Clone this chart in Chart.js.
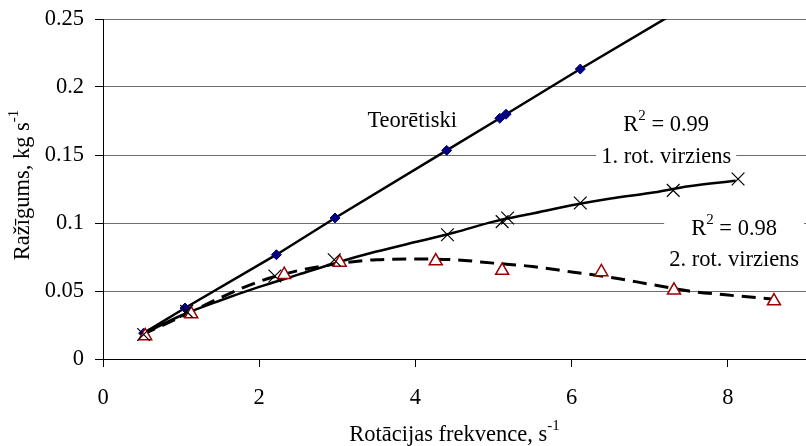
<!DOCTYPE html>
<html>
<head>
<meta charset="utf-8">
<script src="https://cdn.jsdelivr.net/npm/chart.js@4.4.1/dist/chart.umd.min.js"></script>
<style>
  html, body { margin: 0; padding: 0; background: #fff; }
  canvas { display: block; }
</style>
</head>
<body>
<canvas id="chart" width="806" height="446"></canvas>
<script>
// Teorētiskais ražīgums
const teorFreq = [0.52, 1.05, 2.22, 2.97, 4.40, 5.08, 5.16, 6.11, 8.13];
const teorValues = [0.019, 0.0375, 0.0767, 0.1037, 0.1534, 0.177, 0.180, 0.2132, 0.282];

// 1. rotācijas virziens (mērījumi)
const rot1Freq = [0.52, 1.07, 2.20, 2.96, 4.41, 5.11, 5.18, 6.11, 7.30, 8.13];
const rot1Values = [0.018, 0.035, 0.061, 0.073, 0.0914, 0.101, 0.1037, 0.1147, 0.124, 0.1324];

// 2. rotācijas virziens (mērījumi)
const rot2Freq = [0.54, 1.13, 2.32, 3.03, 4.26, 5.11, 6.38, 7.31, 8.59];
const rot2Values = [0.017, 0.033, 0.062, 0.071, 0.072, 0.065, 0.064, 0.0505, 0.0426];

// trendlīnijas
const trend1Freq = [0.5, 1, 1.5, 2, 2.5, 3, 3.5, 4, 4.5, 5, 5.5, 6, 6.5, 7, 7.5, 8.1];
const trend1Values = [0.018, 0.032, 0.043, 0.053, 0.062, 0.071, 0.079, 0.086, 0.093, 0.101, 0.107, 0.113, 0.118, 0.122, 0.127, 0.131];
const trend2Freq = [0.5, 1, 1.5, 2, 2.5, 3, 3.5, 4, 4.5, 5, 5.5, 6, 6.5, 7, 7.5, 8, 8.6];
const trend2Values = [0.018, 0.031, 0.045, 0.057, 0.065, 0.070, 0.073, 0.0735, 0.073, 0.0705, 0.068, 0.064, 0.060, 0.055, 0.050, 0.047, 0.044];

const xTicks = [0, 2, 4, 6, 8];
const yTicks = [0, 0.05, 0.1, 0.15, 0.2, 0.25];

const FONT = '"Liberation Serif", "Times New Roman", serif';
const SIZE = 22.5;

Chart.defaults.color = '#000';
Chart.defaults.font.family = FONT;
Chart.defaults.font.size = SIZE;

const pts = (xs, ys) => xs.map((x, i) => ({ x: x, y: ys[i] }));

// text with a superscript part: main + sup + tail, anchored at x (align) and baseline y
function drawSup(ctx, main, sup, tail, x, y, align) {
  const supSize = 15;
  ctx.font = SIZE + 'px ' + FONT;
  const wMain = ctx.measureText(main).width;
  const wTail = ctx.measureText(tail).width;
  ctx.font = supSize + 'px ' + FONT;
  const wSup = ctx.measureText(sup).width;
  const total = wMain + wSup + wTail;
  let cx = align === 'center' ? x - total / 2 : x;
  ctx.textAlign = 'left';
  ctx.textBaseline = 'alphabetic';
  ctx.fillStyle = '#000';
  ctx.font = SIZE + 'px ' + FONT;
  ctx.fillText(main, cx, y);
  ctx.font = supSize + 'px ' + FONT;
  ctx.fillText(sup, cx + wMain, y - 11);
  ctx.font = SIZE + 'px ' + FONT;
  ctx.fillText(tail, cx + wMain + wSup, y);
  return total;
}

// annotation anchors in data units (x, baseline y)
const notes = [
  { x: 7.21, y1: 0.1674, y2: 0.1443, r2: '0.99', name: '1. rot. virziens' },
  { x: 8.08, y1: 0.0914, y2: 0.0686, r2: '0.98', name: '2. rot. virziens' }
];

const textPlugin = {
  id: 'texts',
  beforeDatasetsDraw(chart) {
    const ctx = chart.ctx;
    const xs = chart.scales.x, ys = chart.scales.y;
    ctx.save();
    ctx.font = SIZE + 'px ' + FONT;
    ctx.fillStyle = '#000';
    ctx.textAlign = 'left';
    ctx.textBaseline = 'alphabetic';
    ctx.fillText('Teorētiski', xs.getPixelForValue(3.385), ys.getPixelForValue(0.1708));

    notes.forEach(n => {
      const cx = xs.getPixelForValue(n.x);
      const b1 = ys.getPixelForValue(n.y1);
      const b2 = ys.getPixelForValue(n.y2);
      ctx.font = SIZE + 'px ' + FONT;
      const w = ctx.measureText(n.name).width;
      ctx.fillStyle = '#fff';
      ctx.fillRect(cx - w / 2 - 5, b1 - 25, w + 10, b2 - b1 + 32);
      drawSup(ctx, 'R', '2', ' = ' + n.r2, cx, b1, 'center');
      ctx.font = SIZE + 'px ' + FONT;
      ctx.fillStyle = '#000';
      ctx.textAlign = 'center';
      ctx.fillText(n.name, cx, b2);
    });
    ctx.restore();
  },
  afterDraw(chart) {
    const ctx = chart.ctx;
    const a = chart.chartArea;
    ctx.save();
    drawSup(ctx, 'Rotācijas frekvence, s', '-1', '', (a.left + a.right) / 2, 441, 'center');
    ctx.translate(29, (a.top + a.bottom) / 2 - 4);
    ctx.rotate(-Math.PI / 2);
    drawSup(ctx, 'Ražīgums, kg s', '-1', '', 0, 0, 'center');
    ctx.restore();
  }
};

new Chart(document.getElementById('chart').getContext('2d'), {
  type: 'scatter',
  data: {
    datasets: [
      {
        label: 'Teorētiski',
        data: pts(teorFreq, teorValues),
        showLine: true,
        borderColor: '#000',
        borderWidth: 2.5,
        pointStyle: 'rectRot',
        pointRadius: 5,
        pointBackgroundColor: '#000080',
        pointBorderColor: '#000080',
        pointBorderWidth: 1,
        order: 2
      },
      {
        label: '1. rot. virziens trend',
        data: pts(trend1Freq, trend1Values),
        showLine: true,
        borderColor: '#000',
        borderWidth: 2.5,
        pointRadius: 0,
        cubicInterpolationMode: 'monotone',
        order: 3
      },
      {
        label: '2. rot. virziens trend',
        data: pts(trend2Freq, trend2Values),
        showLine: true,
        borderColor: '#000',
        borderWidth: 3,
        borderDash: [14, 8],
        pointRadius: 0,
        cubicInterpolationMode: 'monotone',
        order: 3
      },
      {
        label: '1. rot. virziens',
        data: pts(rot1Freq, rot1Values),
        pointStyle: 'crossRot',
        pointRadius: 9,
        pointBorderColor: '#000',
        pointBorderWidth: 1.2,
        order: 1
      },
      {
        label: '2. rot. virziens',
        data: pts(rot2Freq, rot2Values),
        pointStyle: 'triangle',
        pointRadius: 7.5,
        pointBackgroundColor: '#fff',
        pointBorderColor: '#990000',
        pointBorderWidth: 1.5,
        order: 1
      }
    ]
  },
  options: {
    responsive: false,
    animation: false,
    layout: { autoPadding: false, padding: { top: 19, right: 0, left: 0, bottom: 0 } },
    plugins: {
      legend: { display: false },
      tooltip: { enabled: false }
    },
    scales: {
      x: {
        type: 'linear',
        min: 0,
        max: 9,
        afterBuildTicks: s => { s.ticks = xTicks.map(v => ({ value: v })); },
        afterFit: s => { s.height = 87; s.paddingLeft = 0; s.paddingRight = 0; },
        ticks: { padding: 18, maxRotation: 0, callback: v => String(v) },
        grid: { drawOnChartArea: false, tickLength: 8, tickColor: '#000' },
        border: { color: '#000', width: 1 }
      },
      y: {
        min: 0,
        max: 0.25,
        afterBuildTicks: s => { s.ticks = yTicks.map(v => ({ value: v })); },
        afterFit: s => { s.width = 103; s.paddingTop = 0; s.paddingBottom = 0; },
        ticks: { padding: 11, callback: v => String(+v.toFixed(2)) },
        grid: { color: '#6e6e6e', lineWidth: 1, tickLength: 8, tickColor: '#000' },
        border: { color: '#000', width: 1 }
      }
    }
  },
  plugins: [textPlugin]
});
</script>
</body>
</html>
